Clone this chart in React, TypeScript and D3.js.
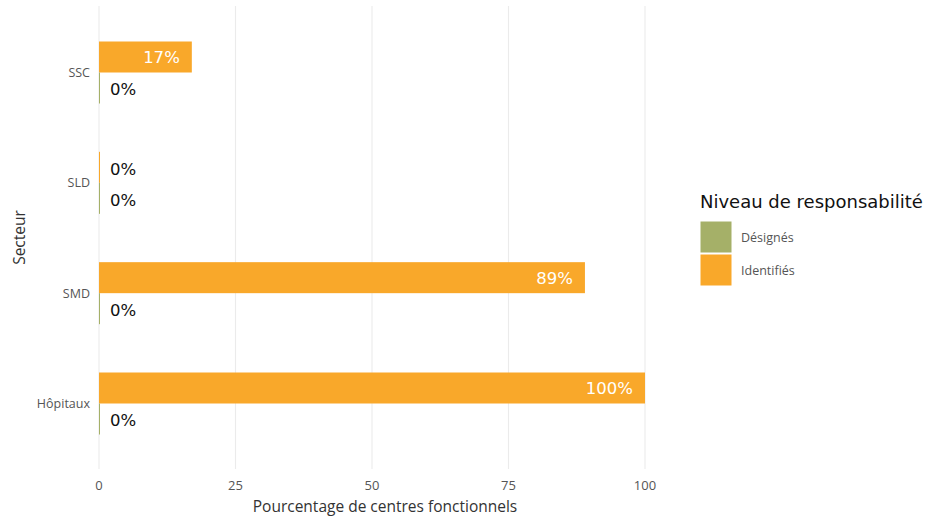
import React from "react";
import * as d3 from "d3";

const categories = ["SSC", "SLD", "SMD", "Hôpitaux"];
const identifies = [17, 0, 89, 100];
const designes = [0, 0, 0, 0];
const seriesNames = ["Désignés", "Identifiés"];
const xTicks = [0, 25, 50, 75, 100];

const W = 944, H = 520;
const left = 99, right = 645, top = 6, bottom = 469;
const ORANGE = "#F9A82A";
const GREEN = "#A5B068";

export default function App() {
  const x = d3.scaleLinear().domain([0, 100]).range([left, right]);
  const yc = d3.scalePoint().domain(categories).range([72.5, 403.5]);
  const bh = 31;
  const sub = d3.scaleBand().domain(["Identifiés", "Désignés"]).range([-bh, bh]);
  const series = [
    { name: "Identifiés", vals: identifies, color: ORANGE },
    { name: "Désignés", vals: designes, color: GREEN },
  ];
  const lab = "DejaVu Sans, sans-serif";
  const os = "'Open Sans', sans-serif";
  return (
    <svg width={W} height={H} style={{ position: "absolute", left: 0, top: 0 }}>
      <rect width={W} height={H} fill="#fff" />
      {xTicks.map((t) => (
        <line key={t} x1={x(t)} x2={x(t)} y1={top} y2={bottom} stroke="#EBEBEB" strokeWidth={1.1} />
      ))}
      {series.map((s) =>
        categories.map((c, i) => {
          const v = s.vals[i];
          const y0 = (yc(c) as number) + (sub(s.name) as number);
          const w = Math.max(1, x(v) - x(0));
          const h = sub.bandwidth();
          return (
            <g key={s.name + c}>
              <rect x={x(0)} y={y0} width={w} height={h} fill={s.color} />
              {v > 0 ? (
                <text x={x(v) - 12} y={y0 + h / 2} dy="0.36em" textAnchor="end" fill="#fff" fontFamily={lab} fontSize={16.5}>
                  {v}%
                </text>
              ) : (
                <text x={x(0) + 11} y={y0 + h / 2 + 1.5} dy="0.36em" textAnchor="start" fill="#111" fontFamily={lab} fontSize={16.5}>
                  {v}%
                </text>
              )}
            </g>
          );
        })
      )}
      {categories.map((c) => (
        <text key={c} x={90} y={yc(c) as number} dy="0.36em" textAnchor="end" fill="#555" fontFamily={os} fontSize={12.5}>
          {c}
        </text>
      ))}
      {xTicks.map((t) => (
        <text key={t} x={x(t)} y={490} textAnchor="middle" fill="#555" fontFamily={os} fontSize={13}>
          {t}
        </text>
      ))}
      <text x={(left + right) / 2 + 13} y={512} textAnchor="middle" fill="#333" fontFamily={os} fontSize={15.5}>
        Pourcentage de centres fonctionnels
      </text>
      <text transform={`translate(25,${(top + bottom) / 2}) rotate(-90)`} textAnchor="middle" fill="#333" fontFamily={os} fontSize={15.5}>
        Secteur
      </text>
      <text x={700} y={208} fill="#111" fontFamily={lab} fontSize={18}>
        Niveau de responsabilité
      </text>
      {seriesNames.map((n, i) => (
        <g key={n}>
          <rect x={700} y={221 + i * 33} width={32} height={32} fill={n === "Désignés" ? GREEN : ORANGE} stroke="#fff" strokeWidth={1} />
          <text x={741} y={237 + i * 33} dy="0.36em" fill="#555" fontFamily={os} fontSize={12.5}>
            {n}
          </text>
        </g>
      ))}
    </svg>
  );
}
